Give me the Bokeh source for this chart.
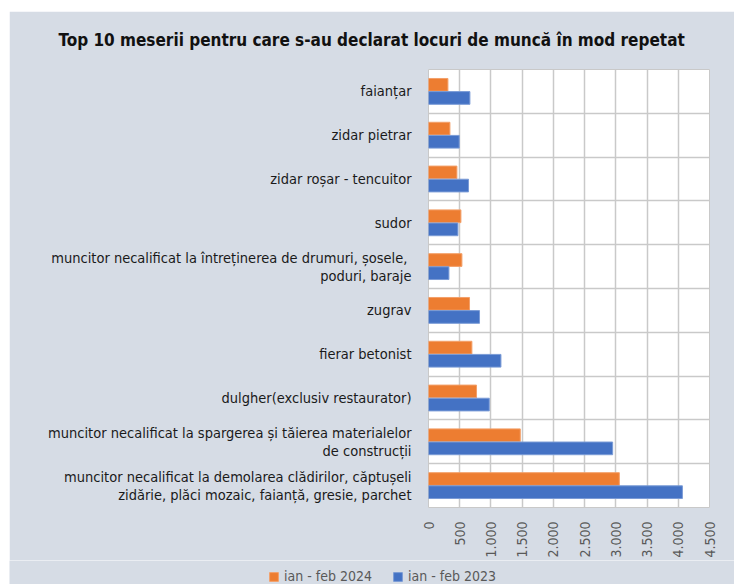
import math
from bokeh.plotting import figure
from bokeh.models import ColumnDataSource, FixedTicker, Legend, LegendItem, Title
from bokeh.embed import file_html
from bokeh.resources import INLINE

# ---- data ----
categories = [
    "faianțar",
    "zidar pietrar",
    "zidar roșar - tencuitor",
    "sudor",
    "muncitor necalificat la întreținerea de drumuri,  șosele,\npoduri, baraje",
    "zugrav",
    "fierar betonist",
    "dulgher(exclusiv restaurator)",
    "muncitor necalificat la spargerea și tăierea materialelor\nde construcții",
    "muncitor necalificat la demolarea clădirilor, căptușeli\nzidărie, plăci mozaic, faianță, gresie, parchet",
]
v2024 = [311, 343, 455, 519, 535, 657, 695, 769, 1470, 3056]
v2023 = [663, 492, 641, 471, 327, 817, 1160, 973, 2949, 4066]
series_names = ["ian - feb 2024", "ian - feb 2023"]
tick_values = [0, 500, 1000, 1500, 2000, 2500, 3000, 3500, 4000, 4500]
tick_labels = ["0", "500", "1.000", "1.500", "2.000", "2.500", "3.000", "3.500", "4.000", "4.500"]
title_text = "Top 10 meserii pentru care s-au declarat locuri de muncă în mod repetat"

FONT = "'DejaVu Sans Condensed', 'Liberation Sans Narrow', Roboto"
BG = "#D6DCE5"
ORANGE = "#ED7D31"
BLUE = "#4472C4"
ORANGE_EDGE = "#F3A06A"
BLUE_EDGE = "#7A9BD6"

n = len(categories)
centers = [n - i - 0.5 for i in range(n)]

src = ColumnDataSource(dict(
    cat=categories,
    y24=[c + 0.15 for c in centers],
    y23=[c - 0.15 for c in centers],
    v24=v2024,
    v23=v2023,
))

p = figure(width=725, height=549, x_range=(0, 4500), y_range=(0, n),
           output_backend="svg", toolbar_location=None,
           min_border_left=419, min_border_right=25, min_border_top=58, min_border_bottom=52,
           margin=(11, 0, 0, 9))
p.background_fill_color = "white"
p.border_fill_color = BG
p.outline_line_color = "#C9C9C9"
p.outline_line_width = 1

p.hbar(y="y24", right="v24", left=0, height=0.29, source=src,
       fill_color=ORANGE, line_color=ORANGE_EDGE, line_width=1)
p.hbar(y="y23", right="v23", left=0, height=0.29, source=src,
       fill_color=BLUE, line_color=BLUE_EDGE, line_width=1)

# x axis
p.xaxis.ticker = FixedTicker(ticks=tick_values)
p.xaxis.major_label_overrides = {v: l for v, l in zip(tick_values, tick_labels)}
p.xaxis.major_label_orientation = math.pi / 2
p.xaxis.axis_line_color = None
p.xaxis.major_tick_line_color = None
p.xaxis.minor_tick_line_color = None
p.xaxis.major_label_text_font = FONT
p.xaxis.major_label_text_font_size = "14px"
p.xaxis.major_label_text_color = "#595959"
p.xaxis.major_label_standoff = 8

# y axis
p.yaxis.ticker = FixedTicker(ticks=centers)
p.yaxis.major_label_overrides = {c: lab for c, lab in zip(centers, categories)}
p.yaxis.axis_line_color = None
p.yaxis.major_tick_line_color = None
p.yaxis.minor_tick_line_color = None
p.yaxis.major_label_text_font = FONT
p.yaxis.major_label_text_font_size = "14.5px"
p.yaxis.major_label_text_line_height = 1.12
p.yaxis.major_label_text_color = "#1a1a1a"
p.yaxis.major_label_standoff = 11

# grids
p.xgrid.ticker = FixedTicker(ticks=tick_values)
p.xgrid.grid_line_color = "#C9C9C9"
p.xgrid.grid_line_width = 1.5
p.ygrid.ticker = FixedTicker(ticks=list(range(n + 1)))
p.ygrid.grid_line_color = "#C9C9C9"
p.ygrid.grid_line_width = 1.5

# spacer between frame and title (pushes the title upward)
p.add_layout(Title(text=" ", text_font_size="3px", standoff=10), "above")

# title
p.title.text = title_text
p.title.text_font = FONT
p.title.text_font_size = "17px"
p.title.text_font_style = "bold"
p.title.text_color = "#111111"
p.title.align = "left"
p.title.offset = -370

# legend (separate strip below the chart, own root so frames are not aligned)
lg = figure(width=725, height=24, x_range=(-2, -1), y_range=(-3, -2),
            output_backend="svg", toolbar_location=None,
            x_axis_location=None, y_axis_location=None,
            min_border=0, margin=(0, 0, 0, 9))
lg.background_fill_color = BG
lg.border_fill_color = BG
lg.outline_line_color = None
lg.grid.visible = False
g24 = lg.hbar(y="y24", right="v24", left=0, height=0.29, source=src,
              fill_color=ORANGE, line_color=ORANGE_EDGE)
g23 = lg.hbar(y="y23", right="v23", left=0, height=0.29, source=src,
              fill_color=BLUE, line_color=BLUE_EDGE)
legend = Legend(items=[LegendItem(label=series_names[0], renderers=[g24]),
                       LegendItem(label=series_names[1], renderers=[g23])],
                orientation="horizontal", location=(259, 0),
                background_fill_alpha=0, border_line_color=None,
                label_text_font=FONT, label_text_font_size="14px",
                label_text_color="#595959", glyph_width=11, glyph_height=11,
                spacing=20, label_standoff=5, padding=2, margin=0)
lg.add_layout(legend, "center")

open("out.html", "w").write(file_html([p, lg], INLINE))
